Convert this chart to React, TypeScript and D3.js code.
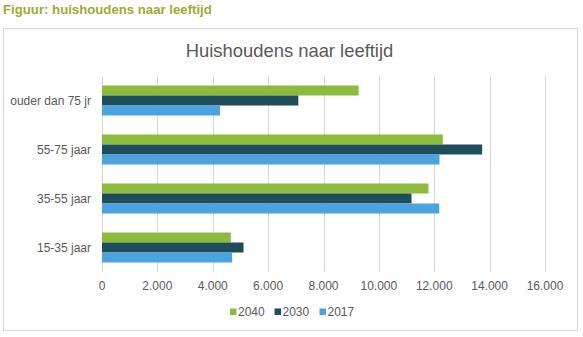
import React from "react";
import * as d3 from "d3";

const categories = ["ouder dan 75 jr", "55-75 jaar", "35-55 jaar", "15-35 jaar"];
const seriesNames = ["2040", "2030", "2017"];
const values2040 = [9270, 12310, 11790, 4650];
const values2030 = [7090, 13730, 11180, 5110];
const values2017 = [4260, 12190, 12180, 4700];
const xTicks = [0, 2000, 4000, 6000, 8000, 10000, 12000, 14000, 16000];
const colors = ["#8DBB3C", "#1E4D5C", "#4BA3DF"];

const W = 583;
const H = 337;
const font = "Liberation Sans, Arial, sans-serif";

export default function App() {
  const series = [values2040, values2030, values2017];
  const x = d3.scaleLinear().domain([0, 16000]).range([102, 545]);
  const y = d3
    .scaleBand<string>()
    .domain(categories)
    .range([76, 272])
    .paddingInner(19 / 49)
    .paddingOuter(19 / 98);
  const ySub = d3.scaleBand<string>().domain(seriesNames).range([0, y.bandwidth()]);
  const fmt = (v: number) => d3.format(",")(v).replace(/,/g, ".");

  const legendX = [230, 274.5, 319.5];

  return (
    <svg width={W} height={H} style={{ position: "absolute", left: 0, top: 0 }}>
      <rect x={0} y={0} width={W} height={H} fill="#fff" />
      <text x={3} y={14} fontFamily={font} fontSize={13.2} fontWeight="bold" fill="#9EAA33">
        Figuur: huishoudens naar leeftijd
      </text>
      <rect x={3.5} y={28.5} width={574} height={302} fill="#fff" stroke="#D9D9D9" />
      <text x={289.5} y={56.5} textAnchor="middle" fontFamily={font} fontSize={18.4} fill="#595959">
        Huishoudens naar leeftijd
      </text>
      {xTicks.map((t) => (
        <g key={t}>
          <line x1={Math.round(x(t)) + 0.5} x2={Math.round(x(t)) + 0.5} y1={76} y2={272} stroke="#D9D9D9" />
          <text x={x(t)} y={290} textAnchor="middle" fontFamily={font} fontSize={12} fill="#595959">
            {fmt(t)}
          </text>
        </g>
      ))}
      {categories.map((c, i) => (
        <g key={c}>
          {series.map((vals, s) => (
            <rect
              key={s}
              x={x(0)}
              y={(y(c) as number) + (ySub(seriesNames[s]) as number)}
              width={x(vals[i]) - x(0)}
              height={ySub.bandwidth()}
              fill={colors[s]}
            />
          ))}
          <text
            x={91}
            y={(y(c) as number) + y.bandwidth() / 2 + 4}
            textAnchor="end"
            fontFamily={font}
            fontSize={12}
            fill="#595959"
          >
            {c}
          </text>
        </g>
      ))}
      {seriesNames.map((n, s) => (
        <g key={n}>
          <rect x={legendX[s]} y={308.5} width={6.5} height={6.5} fill={colors[s]} />
          <text x={legendX[s] + 8} y={316} fontFamily={font} fontSize={12} fill="#595959">
            {n}
          </text>
        </g>
      ))}
    </svg>
  );
}
